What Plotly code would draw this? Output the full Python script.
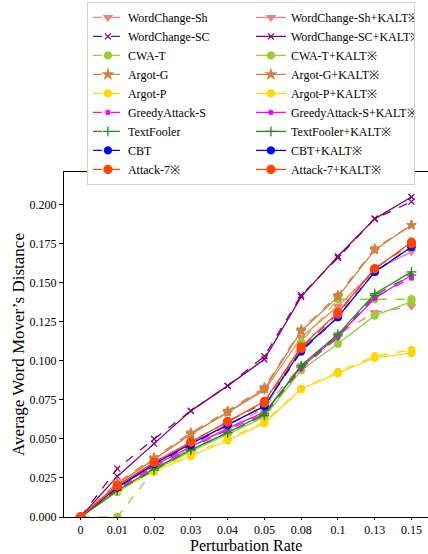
import plotly.graph_objects as go

rates = ["0", "0.01", "0.02", "0.03", "0.04", "0.05", "0.08", "0.1", "0.13", "0.15"]

wordchange_sh = [0, 0.019, 0.033, 0.045, 0.056, 0.070, 0.097, 0.117, 0.131, 0.135]
wordchange_sh_kalt = [0, 0.021, 0.037, 0.053, 0.067, 0.081, 0.115, 0.135, 0.158, 0.170]
wordchange_sc = [0, 0.031, 0.050, 0.068, 0.084, 0.103, 0.142, 0.166, 0.191, 0.202]
wordchange_sc_kalt = [0, 0.026, 0.047, 0.068, 0.084, 0.101, 0.141, 0.167, 0.191, 0.205]
cwa_t = [0, 0, 0.030, 0.045, 0.056, 0.068, 0.112, 0.1395, 0.1395, 0.1395]
cwa_t_kalt = [0, 0.016, 0.030, 0.042, 0.053, 0.064, 0.094, 0.111, 0.129, 0.138]
argot_g = [0, 0.022, 0.038, 0.054, 0.068, 0.083, 0.120, 0.142, 0.172, 0.187]
argot_g_kalt = [0, 0.021, 0.037, 0.053, 0.067, 0.082, 0.119, 0.141, 0.171, 0.187]
argot_p = [0, 0.018, 0.030, 0.040, 0.050, 0.061, 0.082, 0.093, 0.103, 0.107]
argot_p_kalt = [0, 0.017, 0.029, 0.039, 0.049, 0.060, 0.082, 0.092, 0.102, 0.105]
greedy_s = [0, 0.018, 0.032, 0.044, 0.056, 0.066, 0.095, 0.115, 0.141, 0.153]
greedy_s_kalt = [0, 0.019, 0.033, 0.045, 0.057, 0.067, 0.096, 0.116, 0.140, 0.155]
textfooler = [0, 0.017, 0.030, 0.043, 0.054, 0.065, 0.096, 0.116, 0.142, 0.155]
textfooler_kalt = [0, 0.017, 0.031, 0.043, 0.054, 0.066, 0.097, 0.117, 0.143, 0.157]
cbt = [0, 0.019, 0.034, 0.046, 0.059, 0.071, 0.106, 0.128, 0.157, 0.173]
cbt_kalt = [0, 0.019, 0.034, 0.047, 0.059, 0.071, 0.107, 0.128, 0.157, 0.173]
attack7 = [0, 0.020, 0.035, 0.048, 0.061, 0.073, 0.108, 0.130, 0.159, 0.175]
attack7_kalt = [0, 0.020, 0.035, 0.048, 0.061, 0.074, 0.109, 0.131, 0.159, 0.176]

series = [
    ("WordChange-Sh", wordchange_sh, wordchange_sh_kalt, "#F08080", "triangle-down", 7),
    ("WordChange-SC", wordchange_sc, wordchange_sc_kalt, "#800080", "x-thin", 6),
    ("CWA-T", cwa_t, cwa_t_kalt, "#9ACD32", "circle", 7),
    ("Argot-G", argot_g, argot_g_kalt, "#CD853F", "star", 7),
    ("Argot-P", argot_p, argot_p_kalt, "#FFD700", "circle", 7),
    ("GreedyAttack-S", greedy_s, greedy_s_kalt, "#FF00FF", "circle", 4),
    ("TextFooler", textfooler, textfooler_kalt, "#228B22", "cross-thin", 7),
    ("CBT", cbt, cbt_kalt, "#0000FF", "circle", 7),
    ("Attack-7※", attack7, attack7_kalt, "#FF4500", "circle", 8),
]

fig = go.Figure()
for name, base, kalt, color, sym, size in series:
    kname = name.replace("※", "") + "+KALT※"
    for nm, vals, dash in [(name, base, "dash"), (kname, kalt, "solid")]:
        fig.add_trace(go.Scatter(
            x=rates, y=vals, name=nm, mode="lines+markers",
            line=dict(color=color, width=1.3, dash=dash),
            marker=dict(symbol=sym, size=size, color=color,
                        line=dict(color=color, width=1.3)),
        ))

serif = "Liberation Serif"
fig.update_layout(
    width=428, height=554,
    margin=dict(l=64, r=0, t=172, b=37),
    paper_bgcolor="white", plot_bgcolor="white",
    font=dict(family=serif, color="black", size=12),
    showlegend=True,
    legend=dict(
        orientation="h", x=0.063, y=1.493, xanchor="left", yanchor="top",
        entrywidth=118, entrywidthmode="pixels",
        font=dict(family=serif, size=12),
        bordercolor="#d0d0d0", borderwidth=1, bgcolor="white",
        tracegroupgap=0, itemwidth=30,
    ),
    xaxis=dict(
        type="category", range=[-0.45, 9.45],
        showline=True, linecolor="black", linewidth=1, mirror=True,
        ticks="outside", ticklen=2, tickcolor="black",
        showgrid=False, zeroline=False,
        tickfont=dict(family=serif, size=12),
    ),
    yaxis=dict(
        range=[0, 0.221], dtick=0.025, tickformat=".3f",
        showline=True, linecolor="black", linewidth=1, mirror=True,
        ticks="outside", ticklen=4, tickcolor="black",
        showgrid=False, zeroline=False,
        tickfont=dict(family=serif, size=12),
        title=dict(text="Average Word Mover’s Distance", font=dict(family=serif, size=17), standoff=0),
    ),
    annotations=[dict(
        text="Perturbation Rate", xref="paper", yref="paper",
        x=0.5, y=-0.082, xanchor="center", yanchor="middle",
        showarrow=False, font=dict(family=serif, size=16),
    )],
)

fig.write_html("out.html")
